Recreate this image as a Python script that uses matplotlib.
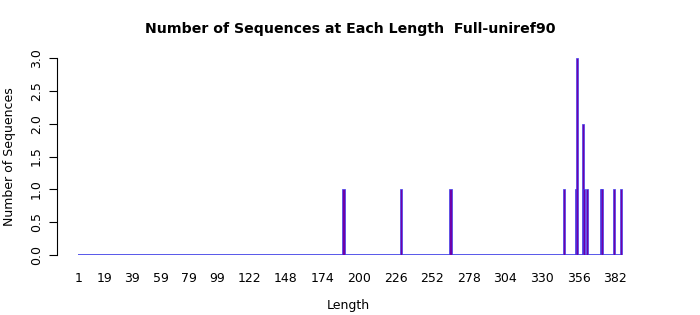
import matplotlib
matplotlib.use("Agg")
import matplotlib.pyplot as plt  # noqa: E402

# sequence lengths with non-zero counts
lengths = [189, 230, 265, 346, 354, 355, 359, 360, 362, 372, 373, 381, 386]
counts = [1, 1, 1, 1, 1, 3, 2, 1, 1, 1, 1, 1, 1]
min_len, max_len = 1, 386

xtick_labels = [1, 19, 39, 59, 79, 99, 122, 148, 174, 200, 226, 252, 278,
                304, 330, 356, 382]
yticks = [0.0, 0.5, 1.0, 1.5, 2.0, 2.5, 3.0]

W, H = 700, 315
fig = plt.figure(figsize=(W / 100, H / 100), dpi=100)
ax = fig.add_axes([57 / W, (H - 255) / H, (640 - 57) / W, (255 - 58) / H])

ax.hlines(0, min_len - 0.5, max_len + 0.5, color="#3b3be6", linewidth=1.2,
          zorder=2)
ax.bar(lengths, counts, width=1.5, color="#7000a8", edgecolor="#4040ee",
       linewidth=0.5, zorder=3)

ax.set_xlim(-14.6, 399.7)
ax.set_ylim(0, 3)

for side in ["top", "right", "bottom"]:
    ax.spines[side].set_visible(False)
ax.spines["left"].set_bounds(0, 3)
ax.spines["left"].set_linewidth(0.8)

ax.set_xticks(xtick_labels)
ax.set_xticklabels([str(v) for v in xtick_labels], fontsize=9)
ax.tick_params(axis="x", length=0, pad=12)

ax.set_yticks(yticks)
ax.set_yticklabels([f"{v:.1f}" for v in yticks], rotation=90, va="center",
                   fontsize=9)
ax.tick_params(axis="y", length=6, width=0.8, pad=4)

ax.set_xlabel("Length", fontsize=9, labelpad=10)
ax.set_ylabel("Number of Sequences", fontsize=9, labelpad=10)
fig.text(0.5, (H - 29) / H, "Number of Sequences at Each Length  Full-uniref90",
         ha="center", va="center", fontsize=10.2, fontweight="bold")

fig.savefig("out.png", dpi=100)
